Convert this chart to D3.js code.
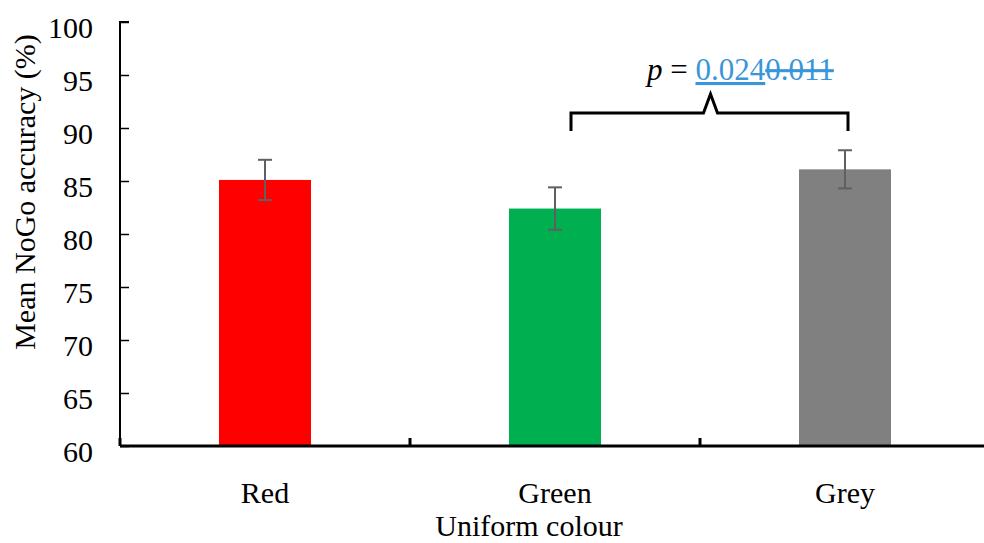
<!DOCTYPE html>
<html><head><meta charset="utf-8">
<script src="https://cdn.jsdelivr.net/npm/d3@7/dist/d3.min.js"></script>
<style>body{margin:0;background:#fff}svg{display:block}</style>
</head><body>
<svg id="c" width="984" height="543"></svg>
<script>
const categories = ["Red", "Green", "Grey"];
const means = [85.1, 82.4, 86.1];
const errors = [1.9, 2.0, 1.8];
const colors = ["#ff0000", "#00b050", "#808080"];
const yTicks = [60, 65, 70, 75, 80, 85, 90, 95, 100];
const pLabel = "p";
const pNew = "0.024";
const pOld = "0.011";

const svg = d3.select("#c");
const font = "'Liberation Serif', 'Times New Roman', serif";
const x0 = 120, x1 = 990, yTop = 22, yBot = 446;
const x = d3.scaleBand().domain(categories).range([x0, x1]).paddingInner(0).paddingOuter(0);
const y = d3.scaleLinear().domain([60, 100]).range([yBot, yTop]);
const barW = 92;

// y axis
const yAxis = d3.axisRight(y).tickValues(yTicks).tickSize(9).tickFormat(d3.format("d"));
const gy = svg.append("g").attr("transform", `translate(${x0},0)`).call(yAxis);
gy.select(".domain").attr("stroke", "#000").attr("stroke-width", 2).attr("d", `M9,${yTop}H0V${yBot}`);
gy.selectAll(".tick line").attr("stroke", "#000").attr("stroke-width", 1.5);
gy.selectAll(".tick text").attr("x", -27).attr("y", 5).attr("text-anchor", "end")
  .attr("font-family", font).attr("font-size", 30).attr("fill", "#000").attr("dy", "0.35em");

// bars
svg.selectAll("rect.bar").data(categories).join("rect")
  .attr("x", d => x(d) + (x.bandwidth() - barW) / 2)
  .attr("width", barW)
  .attr("y", (d, i) => y(means[i]))
  .attr("height", (d, i) => y(60) - y(means[i]))
  .attr("fill", (d, i) => colors[i]);

// error bars
const eb = svg.append("g").attr("stroke", "#606060").attr("stroke-width", 2);
categories.forEach((c, i) => {
  const cx = x(c) + x.bandwidth() / 2;
  const t = y(means[i] + errors[i]), b = y(means[i] - errors[i]);
  eb.append("line").attr("x1", cx).attr("x2", cx).attr("y1", t).attr("y2", b);
  eb.append("line").attr("x1", cx - 7).attr("x2", cx + 7).attr("y1", t).attr("y2", t);
  eb.append("line").attr("x1", cx - 7).attr("x2", cx + 7).attr("y1", b).attr("y2", b);
});

// x axis
const xAxis = d3.axisBottom(x).tickSize(0).tickFormat(d => d);
const gx = svg.append("g").attr("transform", `translate(0,${yBot})`).call(xAxis);
gx.select(".domain").attr("stroke", "#000").attr("stroke-width", 3).attr("d", `M${x0},0H984`);
gx.selectAll(".tick text").attr("y", 46).attr("dy", "0.35em")
  .attr("font-family", font).attr("font-size", 30).attr("fill", "#000");
// category boundary ticks
const bounds = categories.map(c => x(c));
svg.append("g").selectAll("line").data(bounds).join("line")
  .attr("x1", d => d).attr("x2", d => d)
  .attr("y1", yBot - 8).attr("y2", yBot)
  .attr("stroke", "#000").attr("stroke-width", 3);

// axis titles
svg.append("text").attr("transform", `translate(35,192) rotate(-90)`)
  .attr("text-anchor", "middle").attr("font-family", font).attr("font-size", 30)
  .text("Mean NoGo accuracy (%)");
svg.append("text").attr("x", 529).attr("y", 536)
  .attr("text-anchor", "middle").attr("font-family", font).attr("font-size", 30)
  .text("Uniform colour");

// significance bracket
const gxC = x("Green") + x.bandwidth() / 2 + 16;
const grC = x("Grey") + x.bandwidth() / 2 + 3;
const mid = (gxC + grC) / 2 + 1;
const by = 113;
svg.append("path")
  .attr("d", `M${gxC},${by + 18}V${by}H${mid - 7}L${mid},${by - 19}L${mid + 7},${by}H${grC}V${by + 18}`)
  .attr("fill", "none").attr("stroke", "#000").attr("stroke-width", 3);

const pt = svg.append("text").attr("x", 647).attr("y", 80)
  .attr("font-family", font).attr("font-size", 31);
pt.append("tspan").attr("font-style", "italic").text(pLabel);
pt.append("tspan").text(" = ");
pt.append("tspan").attr("fill", "#3a96d8").attr("text-decoration", "underline").text(pNew);
pt.append("tspan").attr("fill", "#3a96d8").attr("text-decoration", "line-through").text(pOld);
</script>
</body></html>
